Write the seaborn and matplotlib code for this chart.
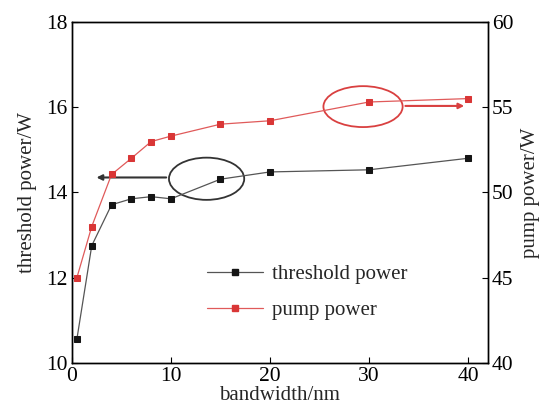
import matplotlib
matplotlib.use("Agg")
import matplotlib.pyplot as plt
import seaborn as sns
import pandas as pd
from matplotlib.patches import Ellipse
from matplotlib.lines import Line2D

bandwidth = [0.5, 2, 4, 6, 8, 10, 15, 20, 30, 40]
threshold_power = [10.56, 12.75, 13.71, 13.85, 13.9, 13.85, 14.31, 14.48, 14.53, 14.8]
pump_power = [45.0, 48.0, 51.05, 52.0, 52.98, 53.3, 54.0, 54.2, 55.3, 55.5]

sns.set_theme(style="white")
plt.rcParams['font.family'] = ['Liberation Serif', 'DejaVu Serif']

df = pd.DataFrame({"bandwidth": bandwidth, "threshold": threshold_power, "pump": pump_power})

fig = plt.figure(figsize=(5.45, 4.12), dpi=100)
ax = fig.add_axes([0.132, 0.119, 0.763, 0.828])
ax2 = ax.twinx()

black_line = "#555555"
black_mk = "#151515"
red_line = "#e05a5a"
red_mk = "#d93636"

sns.lineplot(data=df, x="bandwidth", y="threshold", ax=ax, color=black_line, lw=0.9,
             marker="s", markersize=5, markerfacecolor=black_mk, markeredgecolor=black_mk)
sns.lineplot(data=df, x="bandwidth", y="pump", ax=ax2, color=red_line, lw=0.9,
             marker="s", markersize=5, markerfacecolor=red_mk, markeredgecolor=red_mk)

ax.set_xlim(0, 42)
ax.set_ylim(10, 18)
ax2.set_ylim(40, 60)
ax.set_xticks([0, 10, 20, 30, 40])
ax.set_yticks([10, 12, 14, 16, 18])
ax2.set_yticks([40, 45, 50, 55, 60])

fs_tick = 15.5
fs_lab = 15
ax.set_xlabel("bandwidth/nm", fontsize=fs_lab, labelpad=0)
ax.set_ylabel("threshold power/W", fontsize=fs_lab, labelpad=7)
ax2.set_ylabel("pump power/W", fontsize=fs_lab, labelpad=5)

for a in (ax, ax2):
    a.tick_params(direction="in", length=4, width=0.8, labelsize=fs_tick, colors="black", pad=3)
    for s in a.spines.values():
        s.set_linewidth(1.0)
        s.set_color("black")
ax.tick_params(axis="both", bottom=True, left=True)
ax2.tick_params(axis="y", right=True)

# annotations
ax.add_patch(Ellipse((13.6, 14.32), 7.6, 0.99, fill=False, ec="#333333", lw=1.3))
ax.annotate("", xy=(2.2, 14.35), xytext=(9.8, 14.35),
            arrowprops=dict(arrowstyle="-|>", color="#333333", lw=1.5, mutation_scale=8))
ax2.add_patch(Ellipse((29.4, 55.03), 8.0, 2.4, fill=False, ec="#d94040", lw=1.3))
ax2.annotate("", xy=(39.9, 55.07), xytext=(33.4, 55.07),
             arrowprops=dict(arrowstyle="-|>", color="#d94040", lw=1.5, mutation_scale=8))

handles = [
    Line2D([], [], color=black_line, lw=0.9, marker="s", markersize=5,
           markerfacecolor=black_mk, markeredgecolor=black_mk),
    Line2D([], [], color=red_line, lw=0.9, marker="s", markersize=5,
           markerfacecolor=red_mk, markeredgecolor=red_mk),
]
if ax2.get_legend():
    ax2.get_legend().remove()
if ax.get_legend():
    ax.get_legend().remove()
leg = ax2.legend(handles, ["threshold power", "pump power"], loc="center left",
                 bbox_to_anchor=(0.29, 0.207), frameon=False, fontsize=15,
                 handlelength=2.7, labelspacing=0.78, handletextpad=0.4, borderpad=0.2)

fig.savefig("out.png", dpi=100)
